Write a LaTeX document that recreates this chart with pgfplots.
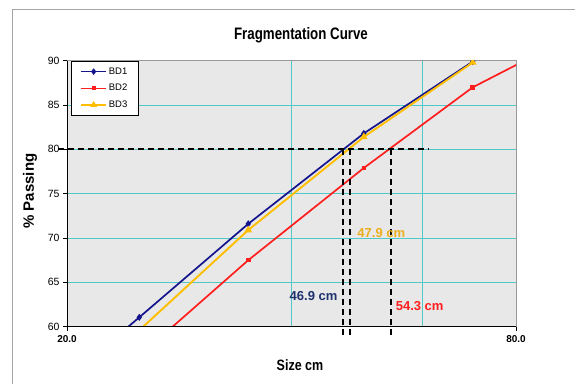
\documentclass[border=0pt]{standalone}
\usepackage{pgfplots}
\pgfplotsset{compat=1.18}
\usepackage{fontspec}
\setmainfont{Liberation Sans}
\definecolor{gridc}{RGB}{80,200,200}
\definecolor{bgc}{RGB}{232,232,232}
\definecolor{navyc}{RGB}{20,20,140}
\definecolor{redc}{RGB}{255,30,30}
\definecolor{goldc}{RGB}{255,190,0}
\definecolor{lbl1}{RGB}{30,50,110}
\definecolor{lbl2}{RGB}{235,175,30}
\begin{document}
\begin{tikzpicture}[x=1pt,y=1pt]
\useasboundingbox (0,0) rectangle (575,384);
\draw[gray!70,line width=1pt] (12,0) -- (12,374) -- (575,374);
\node[font=\bfseries\fontsize{13.3}{15}\selectfont,yscale=1.25] at (301,349) {Fragmentation Curve};
\node[font=\bfseries\fontsize{15}{17}\selectfont,rotate=90] at (30,193) {\% Passing};
\node[font=\bfseries\fontsize{12.5}{14}\selectfont,yscale=1.2] at (300,19) {Size cm};
\begin{axis}[
  at={(67pt,57.3pt)}, anchor=south west,
  scale only axis, width=449pt, height=266pt,
  xmode=log, xmin=20, xmax=80, ymin=60, ymax=90,
  xtick={20,80}, xticklabels={20.0,80.0},
  extra x ticks={40,60}, extra x tick labels={},
  extra x tick style={major tick length=0pt, grid=major},
  ytick={60,65,...,90},
  grid=major, major grid style={gridc, line width=0.9pt},
  axis background/.style={fill=bgc},
  axis line style={gray!80, line width=0.8pt},
  xtick pos=bottom, ytick pos=left, tick align=outside,
  major tick length=4pt, tick style={black, line width=0.8pt},
  xticklabel style={font=\bfseries\fontsize{10}{12}\selectfont, yshift=-1pt},
  yticklabel style={font=\fontsize{10.5}{12}\selectfont},
  /pgf/number format/assume math mode=true,
  clip marker paths=true,
  legend style={at={(0.009,0.998)}, anchor=north west, draw=black, line width=0.8pt, fill=white,
    font=\fontsize{9.5}{11}\selectfont, row sep=4.5pt, inner xsep=9pt, inner ysep=4pt},
  legend cell align=left,
  legend image code/.code={\draw[mark repeat=2,mark phase=2,#1] plot coordinates {(0pt,0pt) (12.5pt,0pt) (25pt,0pt)};},
  legend image post style={line width=1.4pt},
]
\addplot[navyc, line width=1.7pt, mark=diamond*, mark size=2.2pt] coordinates {(20,54.1) (25,61.06) (35,71.6) (50,81.8) (70,89.9)};
\addlegendentry{BD1\hspace{12pt}}
\addplot[redc, line width=1.7pt, mark=square*, mark size=1.4pt] coordinates {(25,56.7) (35,67.5) (50,77.9) (70,87.0) (100,93.7)};
\addlegendentry{BD2\hspace{12pt}}
\addplot[goldc, line width=1.9pt, mark=triangle*, mark size=2.6pt] coordinates {(20,52) (25,59.6) (35,70.9) (50,81.4) (70,89.8)};
\addlegendentry{BD3\hspace{12pt}}
\draw[black, line width=1pt] (rel axis cs:0,1) -- (rel axis cs:0,0) -- (rel axis cs:1,0);
\end{axis}
\begin{axis}[
  at={(67pt,57.3pt)}, anchor=south west,
  scale only axis, width=449pt, height=266pt,
  xmode=log, xmin=20, xmax=80, ymin=60, ymax=90,
  axis lines=none, clip=false,
]
\addplot[black, dash pattern=on 6pt off 4pt, line width=2pt, forget plot] coordinates {(19.45,80) (61,80)};
\addplot[black, dash pattern=on 6pt off 4pt, line width=2pt, forget plot] coordinates {(46.9,80) (46.9,59.1)};
\addplot[black, dash pattern=on 6pt off 4pt, line width=2pt, forget plot] coordinates {(47.9,80) (47.9,59.1)};
\addplot[black, dash pattern=on 6pt off 4pt, line width=2pt, forget plot] coordinates {(54.3,80) (54.3,59.1)};
\node[lbl1, font=\bfseries\fontsize{13}{15}\selectfont, anchor=east] at (axis cs:46.6,63.5) {46.9 cm};
\node[lbl2, font=\bfseries\fontsize{13}{15}\selectfont, anchor=west] at (axis cs:48.5,70.6) {47.9 cm};
\node[redc, font=\bfseries\fontsize{13}{15}\selectfont, anchor=west] at (axis cs:54.6,62.3) {54.3 cm};
\end{axis}
\end{tikzpicture}
\end{document}
